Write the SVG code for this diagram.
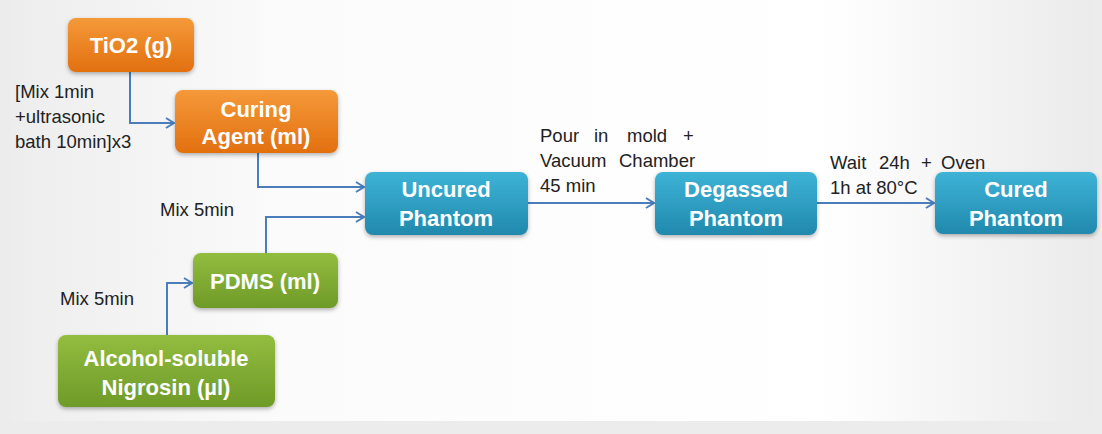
<svg xmlns="http://www.w3.org/2000/svg" width="1102" height="434" viewBox="0 0 1102 434">
<defs>
<linearGradient id="bg" x1="0" y1="0" x2="1" y2="0">
<stop offset="0" stop-color="#ededed"/>
<stop offset="0.25" stop-color="#fbfbfb"/>
<stop offset="0.75" stop-color="#ffffff"/>
<stop offset="1" stop-color="#ebebeb"/>
</linearGradient>
<linearGradient id="gO" x1="0" y1="0" x2="0" y2="1">
<stop offset="0" stop-color="#f5993a"/>
<stop offset="1" stop-color="#e2700f"/>
</linearGradient>
<linearGradient id="gB" x1="0" y1="0" x2="0" y2="1">
<stop offset="0" stop-color="#3db3d6"/>
<stop offset="1" stop-color="#2189ad"/>
</linearGradient>
<linearGradient id="gG" x1="0" y1="0" x2="0" y2="1">
<stop offset="0" stop-color="#93bd3f"/>
<stop offset="1" stop-color="#6e9a28"/>
</linearGradient>
<filter id="sh" x="-10%" y="-10%" width="120%" height="130%">
<feDropShadow dx="0" dy="2" stdDeviation="2" flood-color="#000" flood-opacity="0.3"/>
</filter>
<marker id="ar" markerWidth="12" markerHeight="12" refX="10" refY="6" orient="auto" markerUnits="userSpaceOnUse">
<path d="M2,1 L10,6 L2,11" fill="none" stroke="#4a7ebb" stroke-width="2"/>
</marker>
</defs>
<style>
.n{font-family:"Liberation Sans",Arial,sans-serif;font-weight:bold;font-size:22px;fill:#fff;text-anchor:middle}
.l{font-family:"Liberation Sans",Arial,sans-serif;font-size:18.5px;fill:#222}
.c{fill:none;stroke:#4a7ebb;stroke-width:2;marker-end:url(#ar)}
</style>
<rect width="1102" height="434" fill="#ececec"/>
<rect x="10" y="0" width="1082" height="421" fill="url(#bg)"/>
<g id="connectors">
<path class="c" d="M130,72 V123 H174"/>
<path class="c" d="M258,153 V187 H364"/>
<path class="c" d="M266,253 V217 H364"/>
<path class="c" d="M167,335 V283 H192"/>
<path class="c" d="M528,203 H654"/>
<path class="c" d="M817,203 H934"/>
</g>
<g id="labels">
<text class="l" x="15" y="98">[Mix 1min</text>
<text class="l" x="15" y="123">+ultrasonic</text>
<text class="l" x="15" y="148">bath 10min]x3</text>
<text class="l" x="160" y="216">Mix 5min</text>
<text class="l" x="60" y="305">Mix 5min</text>
<text class="l" y="142"><tspan x="540">Pour</tspan><tspan x="594">in</tspan><tspan x="627">mold</tspan><tspan x="683">+</tspan></text>
<text class="l" y="167"><tspan x="540">Vacuum</tspan><tspan x="619">Chamber</tspan></text>
<text class="l" x="540" y="192">45 min</text>
<text class="l" y="169"><tspan x="830">Wait</tspan><tspan x="879">24h</tspan><tspan x="921">+</tspan><tspan x="941">Oven</tspan></text>
<text class="l" x="830" y="194">1h at 80°C</text>
</g>
<g id="tio2"><rect x="68" y="18" width="126" height="54" rx="8" fill="url(#gO)" filter="url(#sh)"/><text class="n" x="131" y="53">TiO2 (g)</text></g>
<g id="curing"><rect x="175" y="90" width="163" height="63" rx="8" fill="url(#gO)" filter="url(#sh)"/><text class="n" x="256" y="117">Curing</text><text class="n" x="256" y="144">Agent (ml)</text></g>
<g id="uncured"><rect x="365" y="172" width="163" height="63" rx="8" fill="url(#gB)" filter="url(#sh)"/><text class="n" x="446" y="197">Uncured</text><text class="n" x="446" y="226">Phantom</text></g>
<g id="degassed"><rect x="655" y="172" width="162" height="63" rx="8" fill="url(#gB)" filter="url(#sh)"/><text class="n" x="736" y="197">Degassed</text><text class="n" x="736" y="226">Phantom</text></g>
<g id="cured"><rect x="935" y="172" width="162" height="62" rx="8" fill="url(#gB)" filter="url(#sh)"/><text class="n" x="1016" y="197">Cured</text><text class="n" x="1016" y="226">Phantom</text></g>
<g id="pdms"><rect x="193" y="253" width="145" height="55" rx="8" fill="url(#gG)" filter="url(#sh)"/><text class="n" x="265" y="289">PDMS (ml)</text></g>
<g id="nigrosin"><rect x="58" y="335" width="217" height="72" rx="8" fill="url(#gG)" filter="url(#sh)"/><text class="n" x="166" y="366">Alcohol-soluble</text><text class="n" x="166" y="395">Nigrosin (µl)</text></g>
</svg>
